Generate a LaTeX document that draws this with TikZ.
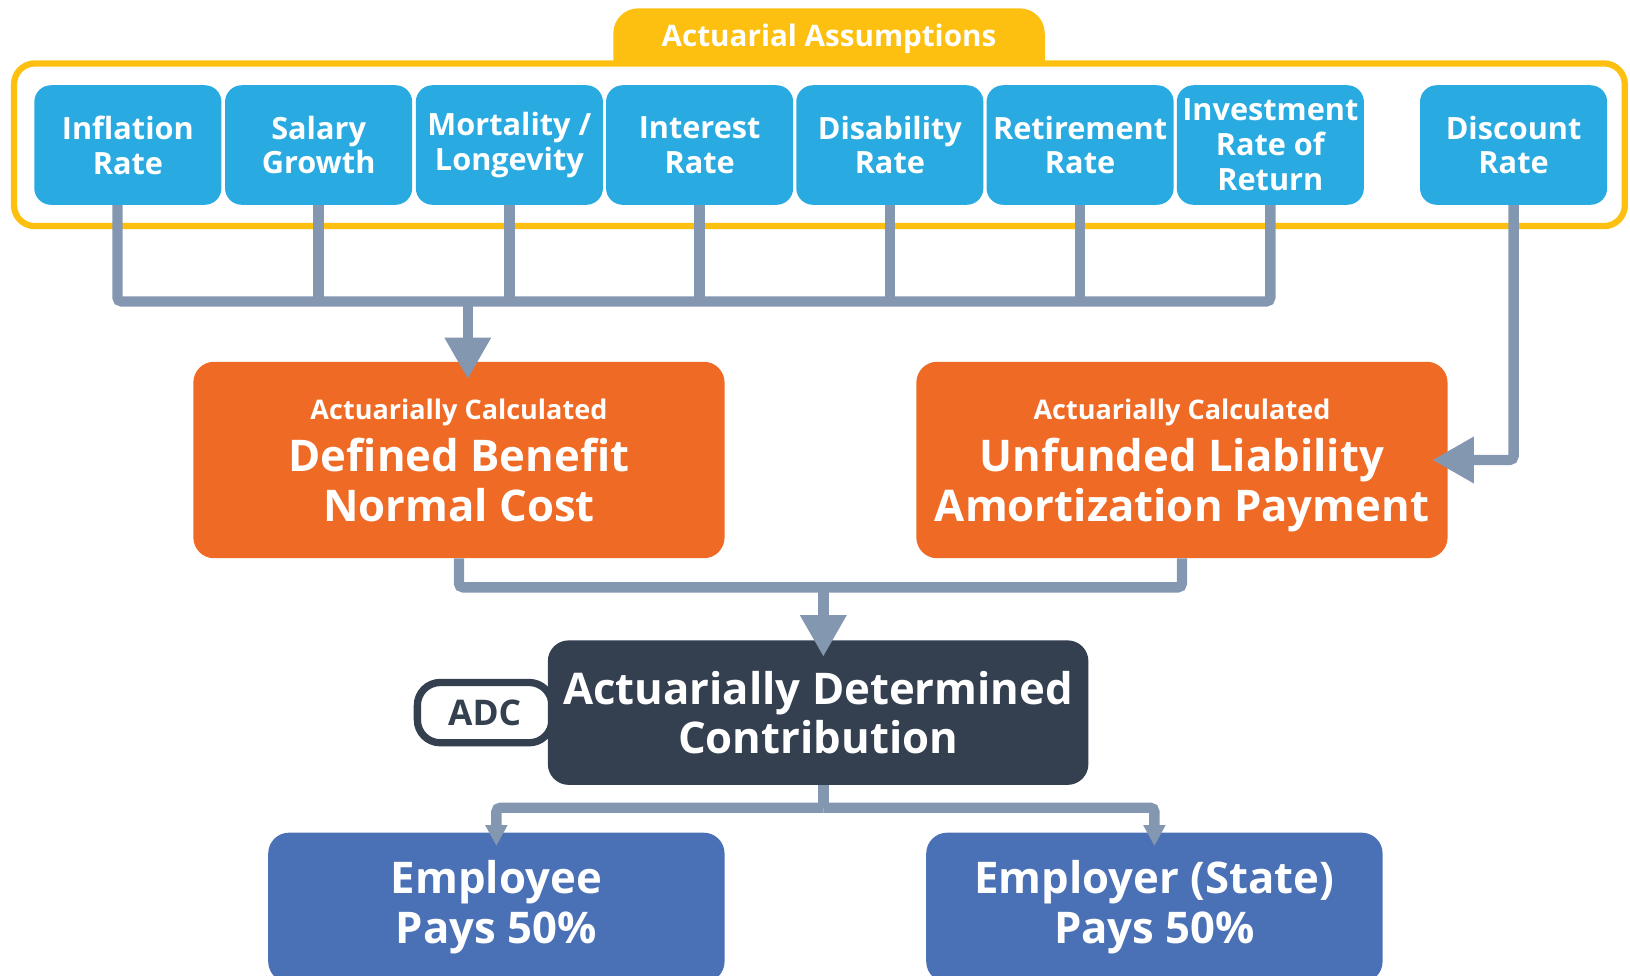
\documentclass[tikz,border=0pt]{standalone}
\usepackage{fontspec}
\setmainfont{Open Sans}
\usetikzlibrary{arrows.meta,positioning}

\definecolor{assumyellow}{RGB}{253,192,16}
\definecolor{rateblue}{RGB}{41,171,226}
\definecolor{calcorange}{RGB}{239,106,37}
\definecolor{adcdark}{RGB}{52,63,80}
\definecolor{payblue}{RGB}{74,112,181}
\definecolor{linkgray}{RGB}{132,151,176}

\begin{document}
\begin{tikzpicture}[x=1pt, y=-1pt,
    rate/.style={rectangle, rounded corners=16pt, fill=rateblue, text=white, minimum width=180pt, minimum height=115pt, inner sep=0pt, align=center, font=\fontsize{29.5}{33.5}\selectfont\bfseries},
    calc/.style={rectangle, rounded corners=20pt, fill=calcorange, text=white, minimum width=511pt, minimum height=189pt, inner sep=0pt, align=center, font=\fontsize{42}{48}\selectfont\bfseries},
    adcbox/.style={rectangle, rounded corners=20pt, fill=adcdark, text=white, minimum width=520pt, minimum height=139pt, inner sep=0pt, align=center, font=\fontsize{42}{48}\selectfont\bfseries},
    adctag/.style={rectangle, rounded corners=22pt, draw=adcdark, line width=7pt, fill=white, text=adcdark, minimum width=129.5pt, minimum height=58pt, inner sep=0pt, font=\fontsize{34}{38}\selectfont\bfseries},
    pay/.style={rectangle, rounded corners=20pt, fill=payblue, text=white, minimum width=439pt, minimum height=144pt, inner sep=0pt, align=center, font=\fontsize{42}{48}\selectfont\bfseries},
    tabbox/.style={rectangle, rounded corners=24pt, fill=assumyellow, minimum width=415pt, minimum height=112pt, inner sep=0pt},
    link/.style={draw=linkgray, line width=10pt, rounded corners=4pt},
    bighead/.style={-{Triangle[width=42pt,length=40pt]}},
    smallhead/.style={-{Triangle[width=20pt,length=20pt]}}
  ]
  \clip (0,0) rectangle (1568,938);

  % assumptions frame
  \node[tabbox] (tab) at (797.5,64) {};
  \draw[assumyellow, line width=6pt, fill=white, rounded corners=20pt] (13.5,61) rectangle (1563,217.5);
  \node[text=white, font=\fontsize{28.5}{32}\selectfont\bfseries] (title) at (797.5,37) {Actuarial Assumptions};

  \node[rate] (infl) at (123,139.5) {Inflation\\Rate};
  \node[rate] (sal) at (306.5,139.5) {Salary\\Growth};
  \node[rate] (mort) at (490,139.5) {Mortality /\\Longevity};
  \node[rate] (inter) at (673,139.5) {Interest\\Rate};
  \node[rate] (disab) at (856,139.5) {Disability\\Rate};
  \node[rate] (retir) at (1039,139.5) {Retirement\\Rate};
  \node[rate] (invest) at (1222,139.5) {Investment\\Rate of\\Return};
  \node[rate] (disc) at (1456,139.5) {Discount\\Rate};

  % calculated costs
  \node[calc] (dbnc) at (441.5,442.5) {{\fontsize{26}{30}\selectfont Actuarially Calculated}\\[2pt]Defined Benefit\\Normal Cost};
  \node[calc] (ual) at (1137,442.5) {{\fontsize{26}{30}\selectfont Actuarially Calculated}\\[2pt]Unfunded Liability\\\raisebox{0pt}[\height][0pt]{Amortization Payment}};

  \node[adctag] (tag) at (466.25,685.5) {ADC};
  \node[adcbox] (adc) at (787,685.5) {Actuarially Determined\\Contribution};

  \node[pay] (ee) at (477.5,873) {Employee\\Pays 50\%};
  \node[pay] (er) at (1110.5,873) {Employer (State)\\Pays 50\%};

  % connectors
  \coordinate (bus1) at (450,290);
  \coordinate (bus2) at (792,565);
  \coordinate (bus3) at (792,777);

  \draw[link] ([xshift=-10pt]infl.south) |- (invest.south |- bus1) -- (invest.south);
  \foreach \r in {sal,mort,inter,disab,retir}
    \draw[link] (\r.south) -- (\r.south |- bus1);
  \draw[link,bighead] (bus1) -- ([yshift=-17pt]bus1 |- dbnc.north);
  \draw[link,bighead] (disc.south) |- ([xshift=-15pt]ual.east);

  \draw[link] (dbnc.south) |- (bus2) -| (ual.south);
  \draw[link,bighead] (bus2) -- ([yshift=-16pt]bus2 |- adc.north);

  \draw[link] (bus3 |- adc.south) -- (bus3);
  \draw[link,smallhead] (bus3) -| ([yshift=-13pt]ee.north);
  \draw[link,smallhead] (bus3) -| ([yshift=-13pt]er.north);
\end{tikzpicture}
\end{document}
